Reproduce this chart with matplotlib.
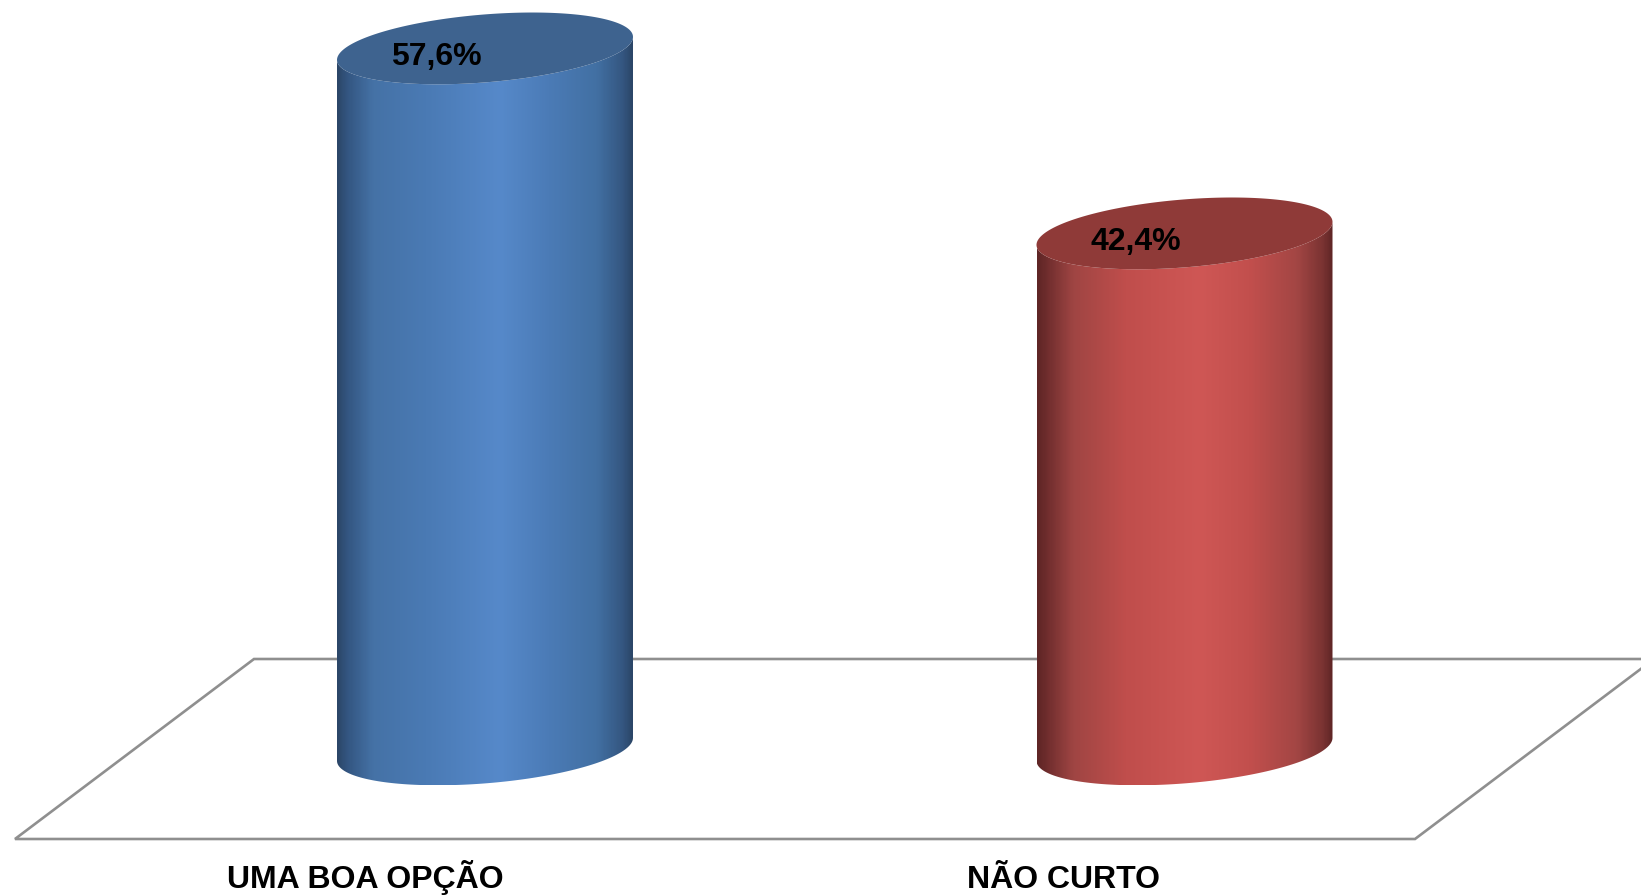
import numpy as np
import matplotlib
matplotlib.use("Agg")
import matplotlib.pyplot as plt
from matplotlib.colors import LinearSegmentedColormap
from matplotlib.patches import Polygon

categories = ["UMA BOA OPÇÃO", "NÃO CURTO"]
values = [57.6, 42.4]
value_labels = ["57,6%", "42,4%"]

W, H = 1641, 896
AX_BOTTOM = 858
X0, PX_PER_X = 485.0, 699.5
Y0, PX_PER_Y = 749.4, 12.17

plt.rcParams["font.family"] = ["Liberation Sans", "DejaVu Sans"]
fig = plt.figure(figsize=(W / 100, H / 100), dpi=100, facecolor="white")
ax = fig.add_axes([0, (H - AX_BOTTOM) / H, 1, AX_BOTTOM / H])
xlim = (-X0 / PX_PER_X, (W - X0) / PX_PER_X)
ylim = ((Y0 - AX_BOTTOM) / PX_PER_Y, Y0 / PX_PER_Y)

def dx(px):
    return px / PX_PER_X

def dy(px):
    return px / PX_PER_Y

def X(px):
    return (px - X0) / PX_PER_X

def Y(py):
    return (Y0 - py) / PX_PER_Y

# floor outline (perspective plane under the bars)
ax.plot([X(1654), X(254), X(15), X(1415), X(1654)],
        [Y(659), Y(659), Y(839), Y(839), Y(659)],
        color="#8f8f8f", lw=1.9, solid_joinstyle="miter", zorder=1)

A, B, S = 148.0, 34.0, 11.5
stops = [0.0, 0.03, 0.12, 0.30, 0.55, 0.72, 0.88, 0.97, 1.0]
blue = ["#2b4668", "#335580", "#4572a6", "#4a7ab4", "#5689ca", "#4b7bb6", "#4270a3", "#345680", "#2b4668"]
red = ["#5f2626", "#6f2d2d", "#9f4543", "#c04e4c", "#cf5755", "#c24f4d", "#a34644", "#7a3332", "#602626"]
tops = ["#3e638f", "#8f3a38"]
ramps = [blue, red]

def ell(cx, v, t):
    return cx + dx(A) * np.cos(t), v + dy(S) * np.cos(t) + dy(B) * np.sin(t)

for i, v in enumerate(values):
    cmap = LinearSegmentedColormap.from_list("c", list(zip(stops, ramps[i])))
    grad = np.linspace(0, 1, 300).reshape(1, -1)
    bt = np.linspace(np.pi, 2 * np.pi, 100)
    tt = np.linspace(2 * np.pi, np.pi, 100)
    bx, by = ell(i, 0, bt)
    ux, uy = ell(i, v, tt)
    body = Polygon(np.column_stack([np.r_[bx, ux], np.r_[by, uy]]), closed=True,
                   transform=ax.transData, facecolor="none", edgecolor="none")
    ax.add_patch(body)
    im = ax.imshow(grad, cmap=cmap, aspect="auto", zorder=2, interpolation="bilinear",
                   extent=(i - dx(A), i + dx(A), by.min(), v + dy(B + S)))
    im.set_clip_path(body)
    t = np.linspace(0, 2 * np.pi, 240)
    ex, ey = ell(i, v, t)
    ax.fill(ex, ey, color=tops[i], lw=0, zorder=3)
    ax.text(i - dx(48.5), v - dy(9), value_labels[i], ha="center", va="center",
            fontsize=23, fontweight="bold", color="black", zorder=4)

ax.set_xlim(*xlim)
ax.set_ylim(*ylim)
ax.set_xticks([i - dx(120 + i) for i in range(len(categories))])
ax.set_xticklabels(categories, fontsize=23, fontweight="bold", color="black", va="baseline")
ax.tick_params(axis="x", length=0, pad=21.6)
ax.set_yticks([])
for sp in ax.spines.values():
    sp.set_visible(False)

fig.savefig("out.png", dpi=100, facecolor="white")
